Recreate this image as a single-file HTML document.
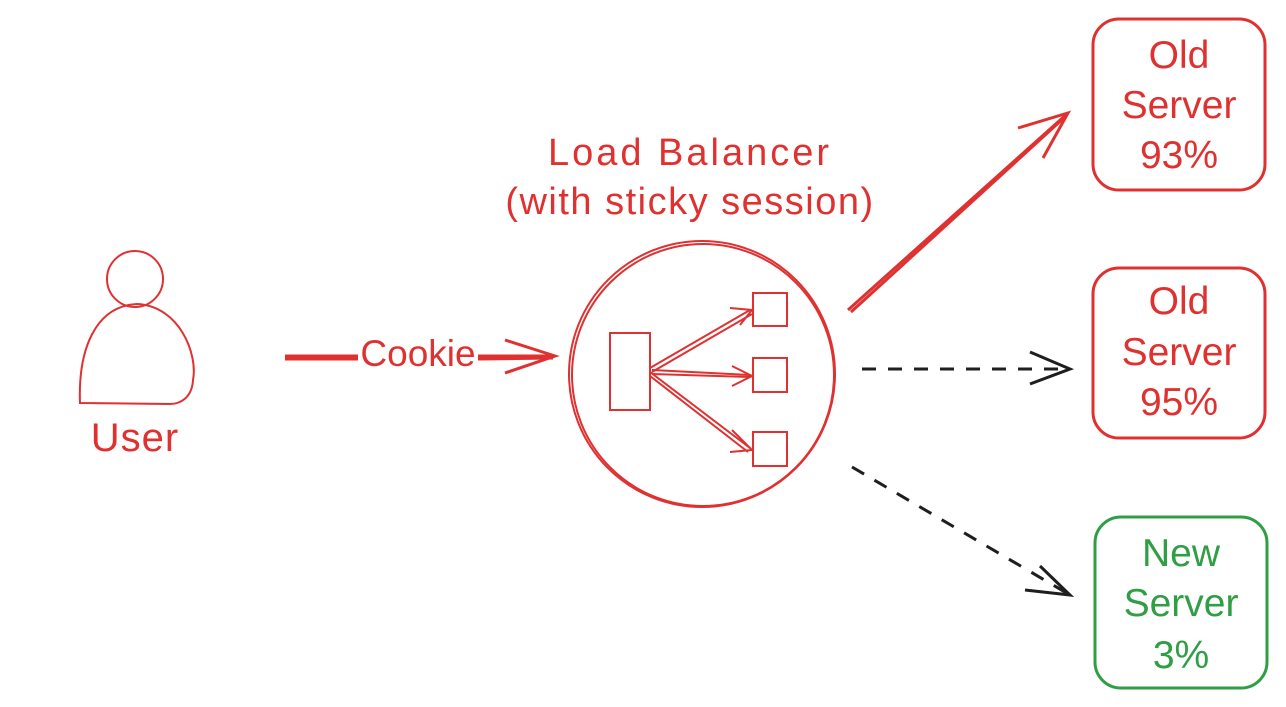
<!DOCTYPE html>
<html><head><meta charset="utf-8"><style>
html,body{margin:0;padding:0;background:#fff;}
svg{display:block;}
text{font-family:"Liberation Sans",sans-serif;}
</style></head><body>
<svg width="1286" height="707" viewBox="0 0 1286 707" xmlns="http://www.w3.org/2000/svg">
<!-- User -->
<g stroke="#e03131" stroke-width="2" fill="none">
<circle cx="135" cy="279" r="28"/>
<path d="M80 403 C78 350 95 306 137 304 C180 306 198 355 193 380 C192 398 180 404 170 404 Z"/>
</g>
<text x="135" y="451" font-size="40" fill="#e03131" text-anchor="middle" letter-spacing="1">User</text>
<!-- Cookie arrow -->
<g stroke="#e03131" stroke-width="3" fill="none">
<path d="M285 356 L358 356 M478 356 L553 356"/>
<path d="M285 359 L358 359 M478 359 L553 358"/>
<path d="M505 340 L555 356 L505 373"/>
</g>
<text x="418" y="366" font-size="37" fill="#e03131" text-anchor="middle">Cookie</text>
<!-- LB circle -->
<text x="690" y="165" font-size="38" fill="#e03131" text-anchor="middle" letter-spacing="3">Load Balancer</text>
<text x="690" y="214" font-size="38" fill="#e03131" text-anchor="middle" letter-spacing="1.5">(with sticky session)</text>
<g stroke="#e03131" stroke-width="2" fill="none">
<circle cx="702" cy="374" r="133"/>
<circle cx="703" cy="375" r="131"/>
<rect x="610" y="333" width="40" height="77"/>
<rect x="753" y="293" width="34" height="33"/>
<rect x="753" y="358" width="34" height="34"/>
<rect x="753" y="432" width="34" height="34"/>
<path d="M650 368 L750 310 M652 372 L752 314"/>
<path d="M730 308 L752 310 L740 325"/>
<path d="M652 370 L750 375 M652 374 L750 377"/>
<path d="M732 366 L752 376 L732 386"/>
<path d="M650 372 L750 448 M650 376 L748 452"/>
<path d="M732 430 L752 450 L730 452"/>
</g>
<!-- arrows to servers -->
<g stroke="#e03131" stroke-width="3" fill="none">
<path d="M848 310 L1068 113"/>
<path d="M851 312 L1066 116"/>
<path d="M1018 128 L1068 113 L1043 158"/>
</g>
<g stroke="#1e1e1e" stroke-width="3" fill="none">
<path d="M862 369 L1070 369" stroke-dasharray="14 12"/>
<path d="M1030 352 L1070 369 L1030 384"/>
<path d="M852 467 L1070 595" stroke-dasharray="14 12"/>
<path d="M1040 566 L1070 595 L1025 590"/>
</g>
<!-- servers -->
<g fill="none" stroke-width="3">
<rect x="1093" y="19" width="172" height="171" rx="26" stroke="#e03131"/>
<rect x="1093" y="268" width="172" height="170" rx="26" stroke="#e03131"/>
<rect x="1095" y="517" width="172" height="171" rx="26" stroke="#2f9e44"/>
</g>
<g font-size="39" text-anchor="middle" fill="#e03131">
<text x="1179" y="68">Old</text>
<text x="1179" y="118">Server</text>
<text x="1179" y="168">93%</text>
<text x="1179" y="314">Old</text>
<text x="1179" y="365">Server</text>
<text x="1179" y="415">95%</text>
</g>
<g font-size="39" text-anchor="middle" fill="#2f9e44">
<text x="1181" y="566">New</text>
<text x="1181" y="616">Server</text>
<text x="1181" y="668">3%</text>
</g>
</svg>
</body></html>
